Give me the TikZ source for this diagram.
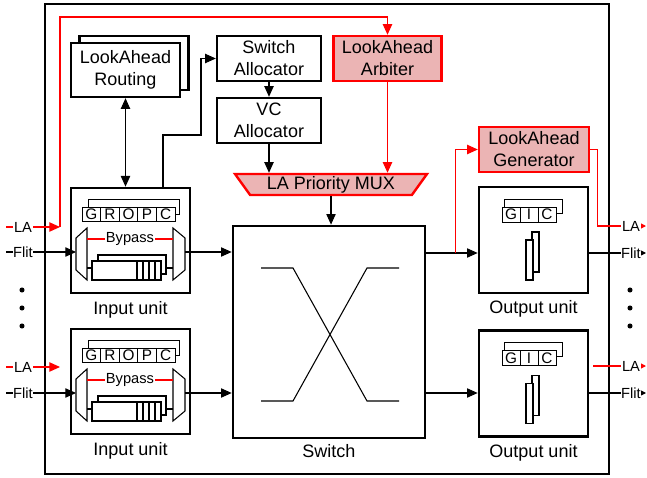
\documentclass[tikz,border=0pt]{standalone}
\usepackage{fontspec}
\setmainfont{Liberation Sans}
\usetikzlibrary{arrows.meta,calc,positioning,shapes.geometric}
\definecolor{NocRed}{HTML}{FF0000}
\definecolor{NocPink}{HTML}{EBB4B4}

\begin{document}
\begin{tikzpicture}[x=0.75pt, y=-0.75pt,
    every node/.style={font=\fontsize{13.5}{16.5}\selectfont},
    blk/.style={draw, line width=1.8pt, fill=white, align=center, inner sep=0pt},
    lablk/.style={blk, draw=NocRed, fill=NocPink},
    unitbox/.style={draw, line width=2pt, fill=white, minimum width=89.25pt, minimum height=78.75pt},
    cellbox/.style={draw, line width=0.7pt, fill=white, inner sep=0pt, minimum width=13.95pt, minimum height=10.5pt, font=\fontsize{11.5}{12}\selectfont},
    sidelab/.style={fill=white, inner xsep=0.5pt, inner ysep=0pt, font=\fontsize{11}{12}\selectfont},
    unitlab/.style={inner sep=2pt},
    wire/.style={line width=0.8pt},
    arr/.style={wire, -{Triangle[length=8pt, width=7pt]}},
    dblarr/.style={wire, {Triangle[length=8pt, width=7pt]}-{Triangle[length=8pt, width=7pt]}},
    redarr/.style={arr, NocRed, line width=0.9pt},
    tip/.style={wire, -{Triangle[length=4.5pt, width=4.5pt]}}]
    \useasboundingbox (0,0) rectangle (647,478);

    % router boundary
    \draw[line width=2.2pt] (45,4) rectangle (609,474);

    % control blocks
    \node[blk, minimum width=81.75pt, minimum height=40.5pt] (routeback) at (134,63) {};
    \node[blk, minimum width=81.75pt, minimum height=40.5pt] (route) at (125.5,70) {LookAhead\\Routing};
    \node[blk, minimum width=78pt, minimum height=33.75pt] (salloc) at (269,58.5) {Switch\\Allocator};
    \node[blk, minimum width=78pt, minimum height=33.75pt] (valloc) at (269,120.5) {VC\\Allocator};
    \node[lablk, minimum width=81pt, minimum height=33.75pt] (arbiter) at (387.5,58.5) {LookAhead\\Arbiter};
    \node[lablk, minimum width=82.5pt, minimum height=33.75pt] (lagen) at (534,149.5) {LookAhead\\Generator};
    \node[draw=NocRed, fill=NocPink, line width=1.8pt, trapezium, trapezium angle=54.5, trapezium stretches=true, shape border rotate=180, minimum width=144pt, minimum height=15.75pt, inner sep=0pt] (lamux) at (331,184.5) {LA Priority MUX};

    % datapath blocks
    \node[unitbox] (in1) at (130.5,240.5) {};
    \node[unitbox] (in2) at (130.5,381.5) {};
    \node[unitbox, minimum width=81.75pt, minimum height=79.5pt] (out1) at (533.5,240) {};
    \node[unitbox, minimum width=81.75pt, minimum height=79.5pt] (out2) at (533.5,383.5) {};
    \node[unitbox, minimum width=144pt, minimum height=159pt] (xbar) at (329,332) {};

    \node[unitlab, below=3pt of in1] (in1lab) {Input unit};
    \node[unitlab, below=3pt of in2] (in2lab) {Input unit};
    \node[unitlab, below=2.5pt of out1] (out1lab) {Output unit};
    \node[unitlab, below=2.5pt of out2] (out2lab) {Output unit};
    \node[unitlab, below=1.5pt of xbar] (xbarlab) {Switch};

    % input unit internals
    \foreach \u in {in1,in2}{
      \begin{scope}[shift={(\u.center)}]
        \draw[wire, line width=0.6pt] (-42.5,-33.5) |- (48.5,-41.5) |- (44.5,-26.5);
        \foreach \f [count=\i] in {G,R,O,P,C}
          \node[cellbox] (\u-f\i) at (-57.8+18.6*\i,-26.5) {\f};
        \draw[wire, fill=white] (-43.5,-12.5) -- (-54.5,-2.5) -- (-54.5,29.5) -- (-43.5,39.5) -- cycle;
        \draw[wire, fill=white] (42.5,-12.5) -- (54.5,-2.5) -- (54.5,29.5) -- (42.5,39.5) -- cycle;
        \draw[wire, NocRed] (-43.5,-1.5) -- node[sidelab, text=black] (\u-byp) {Bypass} (42.5,-1.5);
        \draw[wire, fill=white] (-32.5,14.5) rectangle (35.5,33.5);
        \draw[wire, fill=white] (-38.5,20.5) rectangle (30.5,39.5);
        \foreach \s in {6.5,12.5,18.5,24.5}
          \draw[wire] (\s,20.5) -- (\s,39.5);
        \draw[wire] (-43.5,27.5) -- (-38.5,27.5);
        \draw[wire] (35.5,27.5) -- (42.5,27.5);
        \coordinate (\u-in) at (-54.5,11.5);
        \coordinate (\u-out) at (54.5,11.5);
      \end{scope}
    }

    % output unit internals
    \foreach \u in {out1,out2}{
      \begin{scope}[shift={(\u.center)}]
        \draw[wire, line width=0.6pt] (-29.5,-33) |- (28.5,-41) |- (22.5,-27);
        \foreach \f [count=\i] in {G,I,C}
          \node[cellbox, minimum width=13.5pt, minimum height=11.25pt] (\u-f\i) at (-40.5+18*\i,-25.5) {\f};
        \draw[wire, fill=white] (-1.5,-8) rectangle (5.5,32);
        \draw[wire, fill=white] (-7.5,0) rectangle (-0.5,40);
      \end{scope}
    }

    % crossbar
    \begin{scope}[shift={(xbar.center)}]
      \draw[wire] (-68,-64) -- (-36,-64) -- (38,69) -- (70,69);
      \draw[wire] (-68,69) -- (-36,69) -- (38,-64) -- (70,-64);
    \end{scope}

    % control connections
    \coordinate (rcbend) at (201,135);
    \draw[dblarr] (route.south) -- (route.south |- in1.north);
    \draw[arr] ($(in1.north)+(32.5,0)$) |- (rcbend) |- (salloc.west);
    \draw[arr] (salloc) -- (valloc);
    \draw[arr] (valloc.south) -- (valloc.south |- lamux.north);
    \draw[redarr] (arbiter.south) -- (arbiter.south |- lamux.north);
    \draw[arr] (lamux.south) -- (lamux.south |- xbar.north);

    % flits through the switch
    \draw[arr] (in1-out) -- (in1-out -| xbar.west);
    \draw[arr] (in2-out) -- (in2-out -| xbar.west);
    \coordinate (xo1) at ($(xbar.east)+(0,-79)$);
    \coordinate (xo2) at ($(xbar.east)+(0,61)$);
    \draw[arr] (xo1) -- (xo1 -| out1.west);
    \draw[arr] (xo2) -- (xo2 -| out2.west);
    \coordinate (latap) at ($(xo1)+(29,0)$);
    \draw[redarr] (latap) |- (lagen.west);

    % router inputs
    \coordinate (lain1) at (6,227);
    \coordinate (lajoin1) at (60,227);
    \coordinate (latop) at (60,17);
    \coordinate (flitin1) at (6,252);
    \coordinate (lain2) at (6,367);
    \coordinate (lajoin2) at (60,367);
    \coordinate (flitin2) at (6,393);
    \draw[redarr] (lain1) -- (lajoin1);
    \draw[redarr] (lajoin1) -- (latop) -| (arbiter.north);
    \draw[arr] (flitin1) -- (in1-in);
    \draw[redarr] (lain2) -- (lajoin2);
    \draw[arr] (flitin2) -- (in2-in);
    \node[sidelab] (lain1lab) at (23,227) {LA};
    \node[sidelab] (flitin1lab) at (23,252) {Flit};
    \node[sidelab] (lain2lab) at (23,367) {LA};
    \node[sidelab] (flitin2lab) at (23,393) {Flit};

    % router outputs
    \coordinate (laout1) at (646,226);
    \coordinate (flitout1) at (646,253);
    \coordinate (lastub2) at (593,366);
    \coordinate (laout2) at (646,366);
    \coordinate (flitout2) at (646,393);
    \draw[tip, NocRed, line width=0.9pt] (lagen.east) -- ++(7,0) |- (laout1);
    \draw[tip] (flitout1 -| out1.east) -- (flitout1);
    \draw[tip, NocRed, line width=0.9pt] (lastub2) -- (laout2);
    \draw[tip] (flitout2 -| out2.east) -- (flitout2);
    \node[sidelab] (laout1lab) at (631,226) {LA};
    \node[sidelab] (flitout1lab) at (631,253) {Flit};
    \node[sidelab] (laout2lab) at (631,366) {LA};
    \node[sidelab] (flitout2lab) at (631,393) {Flit};

    % more ports
    \foreach \y in {290,308,326}{
      \fill (22,\y) circle (1.9pt);
      \fill (630,\y) circle (1.9pt);
    }
\end{tikzpicture}
\end{document}
